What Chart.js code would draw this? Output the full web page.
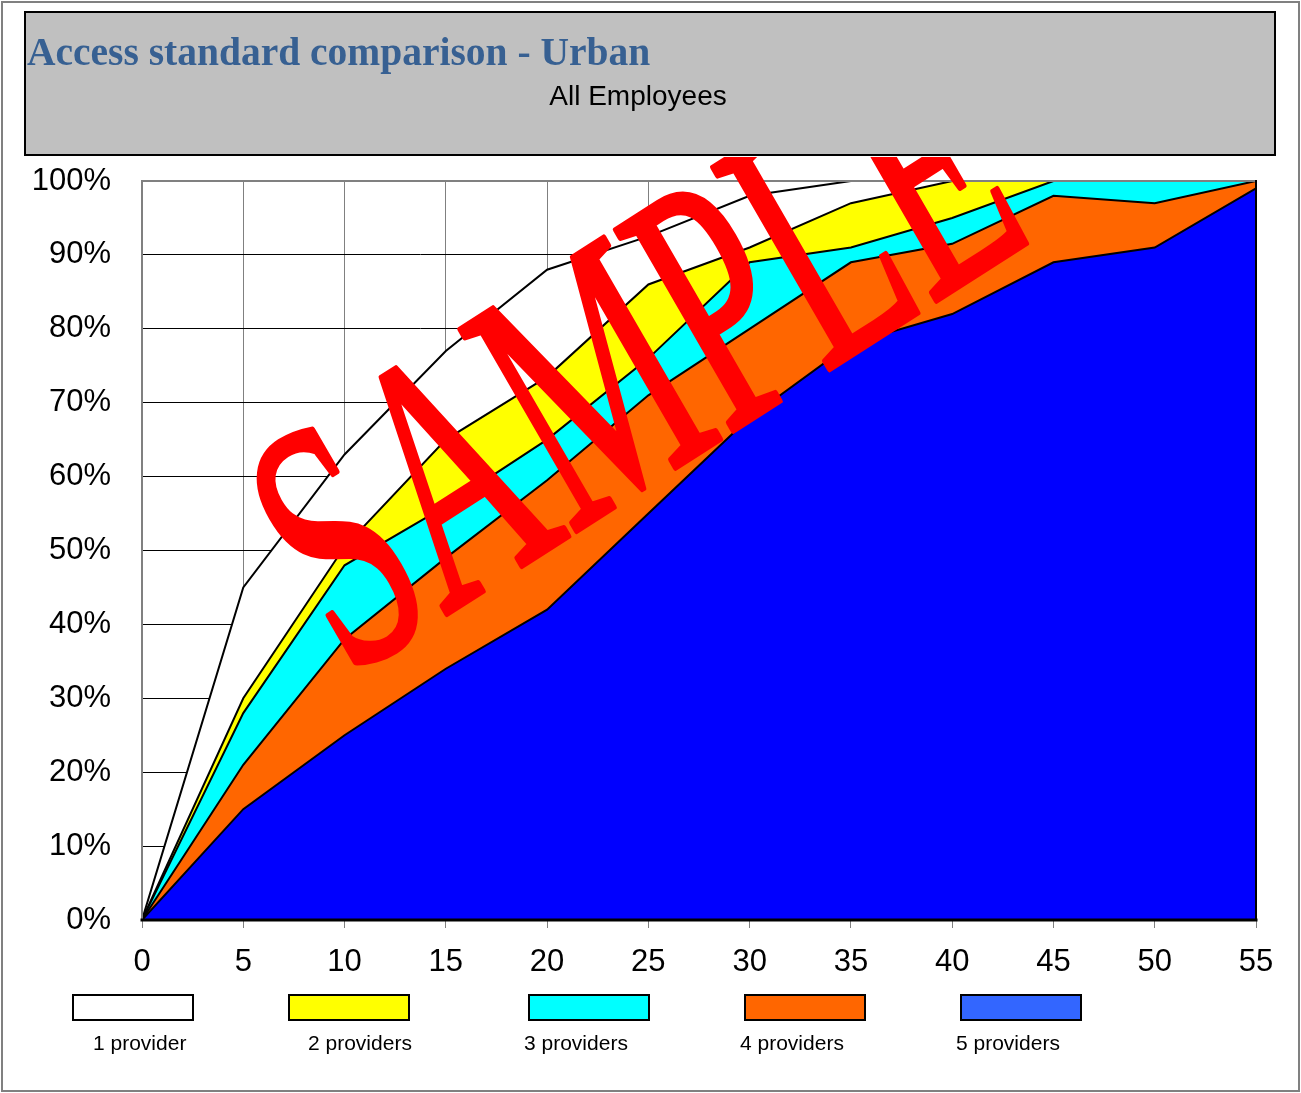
<!DOCTYPE html>
<html>
<head>
<meta charset="utf-8">
<script src="https://cdn.jsdelivr.net/npm/chart.js@4.4.0/dist/chart.umd.min.js"></script>
<style>
html,body{margin:0;padding:0;background:#fff;overflow:hidden}
canvas{display:block}
</style>
</head>
<body>
<canvas id="c" width="1301" height="1093"></canvas>
<script>
// ---------------- data ----------------
const titleText = 'Access standard comparison - Urban';
const subtitleText = 'All Employees';
const watermarkText = 'SAMPLE';
const minutes = [0, 5, 10, 15, 20, 25, 30, 35, 40, 45, 50, 55];
const seriesLabels = ['1 provider', '2 providers', '3 providers', '4 providers', '5 providers'];
const provider1 = [0, 45, 63, 77, 88, 92.5, 98, 100, 100, 100, 100, 100];
const provider2 = [0, 30, 50.5, 65, 73.5, 86, 91, 97, 100, 100, 100, 100];
const provider3 = [0, 28, 48, 56, 65, 76, 89, 91, 95, 100, 100, 100];
const provider4 = [0, 21, 38, 49, 59.5, 71, 80, 89, 91.5, 98, 97, 100];
const provider5 = [0, 15, 25, 34, 42, 55, 68, 78, 82, 89, 91, 99];

// ---------------- style ----------------
const fillColors = ['#ffffff', '#ffff00', '#00ffff', '#ff6600', '#0000ff'];
const legendColors = ['#ffffff', '#ffff00', '#00ffff', '#ff6600', '#3366ff'];
const legendBoxX = [73, 289, 529, 745, 961];
const legendLabelX = [93, 308, 524, 740, 956];

const seriesValues = [provider1, provider2, provider3, provider4, provider5];

const datasets = seriesValues.map((vals, i) => ({
  label: seriesLabels[i],
  data: minutes.map((m, k) => ({ x: m, y: vals[k] })),
  backgroundColor: fillColors[i],
  borderColor: '#000000',
  borderWidth: 2,
  pointRadius: 0,
  pointHoverRadius: 0,
  tension: 0,
  fill: 'origin',
  order: seriesValues.length - i
}));

const frameBg = {
  id: 'frameBg',
  beforeDraw(chart) {
    const ctx = chart.ctx;
    ctx.save();
    ctx.fillStyle = '#ffffff';
    ctx.fillRect(0, 0, chart.width, chart.height);
    // outer border
    ctx.strokeStyle = '#808080';
    ctx.lineWidth = 2;
    ctx.strokeRect(2, 2, chart.width - 4, chart.height - 4);
    // title box
    ctx.fillStyle = '#c0c0c0';
    ctx.fillRect(25, 12, 1250, 143);
    ctx.strokeStyle = '#000000';
    ctx.lineWidth = 2;
    ctx.strokeRect(25, 12, 1250, 143);
    // title
    ctx.fillStyle = '#376092';
    ctx.font = 'bold 39.5px "Liberation Serif", "DejaVu Serif", serif';
    ctx.textAlign = 'left';
    ctx.textBaseline = 'alphabetic';
    ctx.fillText(titleText, 27, 65);
    // subtitle
    ctx.fillStyle = '#000000';
    ctx.font = '28px "Liberation Sans", Arial, sans-serif';
    ctx.textAlign = 'center';
    ctx.fillText(subtitleText, 638, 105);
    ctx.restore();
  }
};

const plotFrame = {
  id: 'plotFrame',
  afterDatasetsDraw(chart) {
    const { ctx, chartArea: a } = chart;
    ctx.save();
    ctx.lineCap = 'square';
    ctx.strokeStyle = '#808080';
    ctx.lineWidth = 2;
    ctx.beginPath(); ctx.moveTo(a.left, a.top); ctx.lineTo(a.right, a.top); ctx.stroke();
    ctx.beginPath(); ctx.moveTo(a.left, a.top); ctx.lineTo(a.left, a.bottom); ctx.stroke();
    ctx.strokeStyle = '#000000';
    ctx.beginPath(); ctx.moveTo(a.right, a.top); ctx.lineTo(a.right, a.bottom); ctx.stroke();
    ctx.lineWidth = 3;
    ctx.beginPath(); ctx.moveTo(a.left, a.bottom); ctx.lineTo(a.right, a.bottom); ctx.stroke();
    ctx.restore();
  }
};

const legendAndMark = {
  id: 'legendAndMark',
  afterDraw(chart) {
    const ctx = chart.ctx;
    // legend
    ctx.save();
    chart.data.datasets.forEach((ds, i) => {
      const bx = legendBoxX[i];
      ctx.fillStyle = legendColors[i];
      ctx.fillRect(bx, 995, 120, 25);
      ctx.strokeStyle = '#000000';
      ctx.lineWidth = 2;
      ctx.strokeRect(bx, 995, 120, 25);
      ctx.fillStyle = '#000000';
      ctx.font = '21px "Liberation Sans", Arial, sans-serif';
      ctx.textAlign = 'left';
      ctx.textBaseline = 'alphabetic';
      ctx.fillText(ds.label, legendLabelX[i], 1050);
    });
    ctx.restore();
    // watermark
    ctx.save();
    ctx.beginPath();
    ctx.rect(0, 157, chart.width, chart.height - 157);
    ctx.clip();
    ctx.setTransform(1.75, -1.12, 1.78, 3.08, 347, 678);
    ctx.fillStyle = '#ff0000';
    ctx.strokeStyle = '#ff0000';
    ctx.lineWidth = 1.6;
    ctx.lineJoin = 'round';
    ctx.font = '100px "Liberation Serif", "Times New Roman", serif';
    ctx.textAlign = 'left';
    ctx.textBaseline = 'alphabetic';
    ctx.fillText(watermarkText, 0, 0);
    ctx.strokeText(watermarkText, 0, 0);
    ctx.restore();
  }
};

new Chart(document.getElementById('c'), {
  type: 'line',
  data: { datasets },
  options: {
    responsive: false,
    devicePixelRatio: 1,
    animation: false,
    events: [],
    layout: { padding: { top: 181, right: 45, left: 0, bottom: 0 } },
    plugins: { legend: { display: false }, title: { display: false }, tooltip: { enabled: false } },
    scales: {
      x: {
        type: 'linear',
        min: 0, max: 55,
        afterFit(scale) { scale.height = 173; },
        border: { display: false },
        grid: {
          color: '#808080',
          lineWidth: 1,
          drawTicks: true,
          tickLength: 8,
          tickColor: '#808080'
        },
        ticks: {
          stepSize: 5,
          color: '#000000',
          padding: 16,
          maxRotation: 0,
          font: { family: '"Liberation Sans", Arial, sans-serif', size: 31 }
        }
      },
      y: {
        min: 0, max: 100,
        afterFit(scale) { scale.width = 142; },
        border: { display: false },
        grid: { color: '#000000', lineWidth: 1, drawTicks: false },
        ticks: {
          stepSize: 10,
          color: '#000000',
          padding: 31,
          callback: v => v + '%',
          font: { family: '"Liberation Sans", Arial, sans-serif', size: 31 }
        }
      }
    }
  },
  plugins: [frameBg, plotFrame, legendAndMark]
});
</script>
</body>
</html>
